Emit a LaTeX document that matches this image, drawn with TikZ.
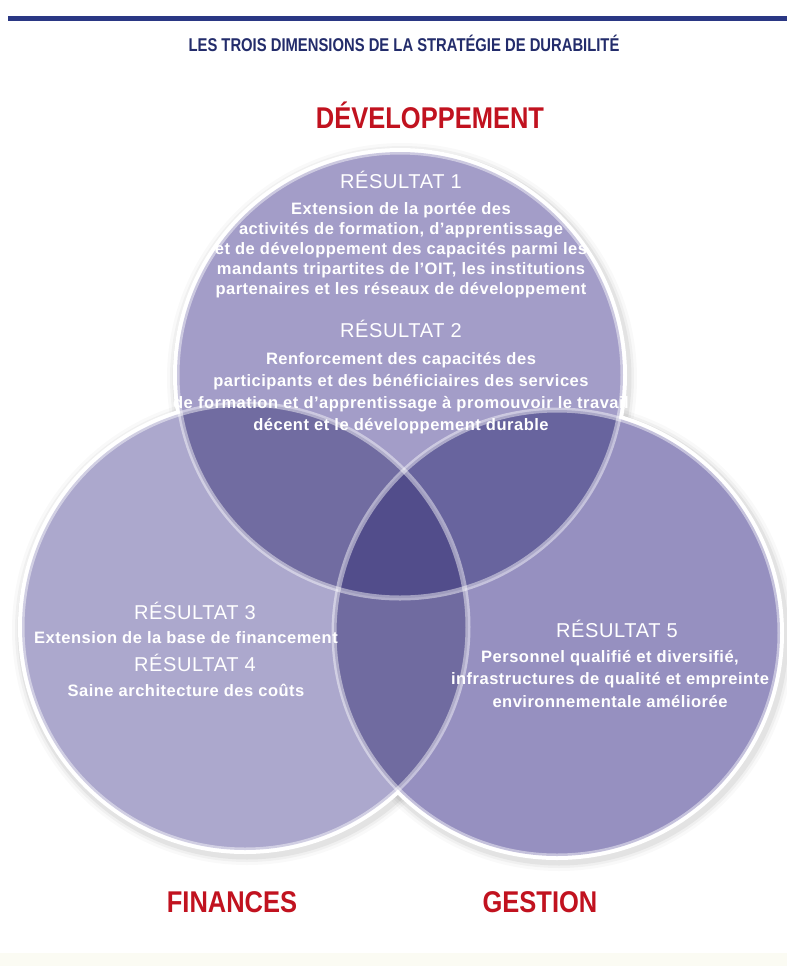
\documentclass[tikz,border=0pt]{standalone}
\usepackage{fontspec}
\setmainfont{Liberation Sans}
\newfontfamily\titlefont[FakeStretch=0.8]{Liberation Sans}
\newfontfamily\dimfont[FakeStretch=0.85]{Liberation Sans}
\newfontfamily\bodyfont[LetterSpace=3]{Liberation Sans}
\newfontfamily\headfont[LetterSpace=3]{Liberation Sans}

\definecolor{rulenavy}{HTML}{2A3784}
\definecolor{titlenavy}{HTML}{232C6B}
\definecolor{dimred}{HTML}{C1121F}
\definecolor{cTop}{HTML}{A39DC8}
\definecolor{cFin}{HTML}{ACA8CD}
\definecolor{cGes}{HTML}{9690C0}
\definecolor{cTF}{HTML}{716CA1}
\definecolor{cTG}{HTML}{68649E}
\definecolor{cFG}{HTML}{706BA0}
\definecolor{cAll}{HTML}{524D8B}
\definecolor{footcream}{HTML}{FBFBF3}

\tikzset{
  px/.style={line width=#1*0.03cm},
  dimlabel/.style={anchor=base, inner sep=0pt, text=dimred,
    font=\dimfont\bfseries\fontsize{25.6}{30}\selectfont},
  reshead/.style={anchor=base, inner sep=0pt, text=white,
    font=\headfont\fontsize{17.1}{20}\selectfont},
  resline/.style={anchor=base, inner sep=0pt, text=white,
    font=\bodyfont\bfseries\fontsize{14.1}{17}\selectfont},
}

\begin{document}
\begin{tikzpicture}[x=0.03cm, y=-0.03cm]
\useasboundingbox (0,0) rectangle (787,966);
\fill[white] (0,0) rectangle (787,966);
\fill[footcream] (0,953) rectangle (787,966);

% header rule and title
\fill[rulenavy] (8,16) rectangle (787,21);
\node[anchor=base, inner sep=0pt, text=titlenavy,
  font=\titlefont\bfseries\fontsize{15.8}{18}\selectfont] (title) at (404,51)
  {LES TROIS DIMENSIONS DE LA STRATÉGIE DE DURABILITÉ};

% circle centres
\def\R{223}
\coordinate (dev) at (400,375);
\coordinate (fin) at (245,627);
\coordinate (ges) at (557,633);

% soft shadows
\foreach \c in {dev,fin,ges}{
  \foreach \w/\o in {18/0.025,12/0.035,7/0.05}{
    \draw[black, opacity=\o, px=\w] ([shift={(2,3)}]\c) circle[radius=\R+3];
  }
}
% white outer rims
\foreach \c in {dev,fin,ges}{
  \fill[white] (\c) circle[radius=\R+4];
}

% single regions
\fill[cTop] (dev) circle[radius=\R];
\fill[cFin] (fin) circle[radius=\R];
\fill[cGes] (ges) circle[radius=\R];
% finances / gestion lens
\begin{scope}
  \clip (fin) circle[radius=\R];
  \fill[cFG] (ges) circle[radius=\R];
\end{scope}
% overlaps with the development circle
\begin{scope}
  \clip (dev) circle[radius=\R];
  \fill[cTF] (fin) circle[radius=\R];
  \fill[cTG] (ges) circle[radius=\R];
  \clip (fin) circle[radius=\R];
  \fill[cAll] (ges) circle[radius=\R];
\end{scope}

% translucent borders
\foreach \c in {dev,fin,ges}{
  \draw[white, opacity=0.45, px=5] (\c) circle[radius=\R];
}

% dimension labels
\node[dimlabel] (ldev) at (430,128) {DÉVELOPPEMENT};
\node[dimlabel] (lfin) at (232,912) {FINANCES};
\node[dimlabel] (lges) at (540,912) {GESTION};

% development circle
\node[reshead] (r1) at (401,188) {RÉSULTAT 1};
\foreach \t [count=\i] in {
  {Extension de la portée des},
  {activités de formation, d’apprentissage},
  {et de développement des capacités parmi les},
  {mandants tripartites de l’OIT, les institutions},
  {partenaires et les réseaux de développement}}{
  \node[resline] (r1l\i) at (401,{214+20.2*(\i-1)}) {\t};
}
\node[reshead] (r2) at (401,337) {RÉSULTAT 2};
\foreach \t [count=\i] in {
  {Renforcement des capacités des},
  {participants et des bénéficiaires des services},
  {de formation et d’apprentissage à promouvoir le travail},
  {décent et le développement durable}}{
  \node[resline] (r2l\i) at (401,{364+22.3*(\i-1)}) {\t};
}

% finances circle
\node[reshead] (r3) at (195,619) {RÉSULTAT 3};
\node[resline] (r3l1) at (186,643) {Extension de la base de financement};
\node[reshead] (r4) at (195,671) {RÉSULTAT 4};
\node[resline] (r4l1) at (186,696) {Saine architecture des coûts};

% gestion circle
\node[reshead] (r5) at (617,637) {RÉSULTAT 5};
\foreach \t [count=\i] in {
  {Personnel qualifié et diversifié,},
  {infrastructures de qualité et empreinte},
  {environnementale améliorée}}{
  \node[resline] (r5l\i) at (610,{662+22.5*(\i-1)}) {\t};
}
\end{tikzpicture}
\end{document}
